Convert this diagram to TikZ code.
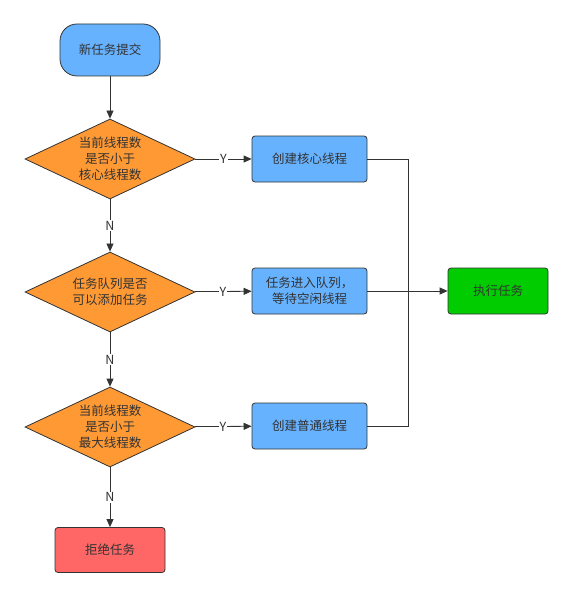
\documentclass[tikz,border=0pt]{standalone}
\usepackage{fontspec}
\setmainfont{Noto Sans CJK SC}
\usetikzlibrary{shapes.geometric, arrows.meta, positioning}
\definecolor{taskblue}{RGB}{102,178,255}
\definecolor{checkorange}{RGB}{255,153,51}
\definecolor{rungreen}{RGB}{0,204,0}
\definecolor{rejectred}{RGB}{255,102,102}
\definecolor{linegray}{RGB}{51,51,51}

\begin{document}
\begin{tikzpicture}[x=1pt, y=-1pt, font=\fontsize{12.5}{16}\selectfont,
  box/.style={draw=linegray, fill=taskblue, line width=0.8pt, rounded corners=3pt, minimum width=115pt, minimum height=46pt, align=center, text=linegray},
  check/.style={diamond, draw=linegray, fill=checkorange, line width=0.8pt, aspect=2.125, inner sep=0pt, minimum width=170pt, minimum height=80pt, align=center, text=linegray},
  flow/.style={draw=linegray, line width=0.8pt, -{Triangle[length=8pt,width=7pt]}},
  tag/.style={fill=white, inner sep=1pt, text=linegray}]
\useasboundingbox (0,0) rectangle (572,599);
% Start
\node[box, rounded corners=17pt, minimum width=100pt, minimum height=52pt] (submit) at (110,50) {新任务提交};
% Decisions
\node[check] (core) at (110,159) {当前线程数\\是否小于\\核心线程数};
\node[check] (queue) at (110,292) {任务队列是否\\可以添加任务};
\node[check] (max) at (110,427) {当前线程数\\是否小于\\最大线程数};
% Actions
\node[box] (newcore) at (309.5,159) {创建核心线程};
\node[box] (enqueue) at (309.5,291) {任务进入队列，\\等待空闲线程};
\node[box] (newnormal) at (309.5,426) {创建普通线程};
\node[box, fill=rungreen, minimum width=100pt] (run) at (498,291) {执行任务};
\node[box, fill=rejectred, minimum width=110pt, minimum height=45pt] (reject) at (110,550) {拒绝任务};
\coordinate (bus) at (408,291);
% N branch down the left
\draw[flow] (submit) -- (core);
\draw[flow] (core) -- node[tag] {N} (queue);
\draw[flow] (queue) -- node[tag] {N} (max);
\draw[flow] (max) -- node[tag] {N} (reject);
% Y branch to the right
\draw[flow] (core) -- node[tag] {Y} (newcore);
\draw[flow] (queue) -- node[tag] {Y} (enqueue);
\draw[flow] (max) -- node[tag] {Y} (newnormal);
% Join into run
\draw[draw=linegray, line width=0.8pt] (newcore.east) -| (bus |- newnormal.east) -- (newnormal.east);
\draw[flow] (enqueue) -- (run);
\end{tikzpicture}
\end{document}
